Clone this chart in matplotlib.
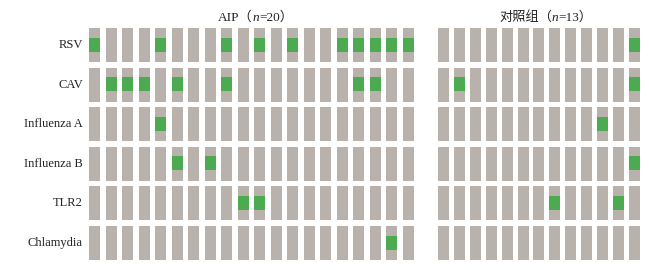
import numpy as np
import matplotlib
matplotlib.use("Agg")
import matplotlib.pyplot as plt

# data: 1 = positive (green), 0 = negative
markers = ["RSV", "CAV", "Influenza A", "Influenza B", "TLR2", "Chlamydia"]
aip_pos = [
    [0, 4, 8, 10, 12, 15, 16, 17, 18, 19],
    [1, 2, 3, 5, 8, 16, 17],
    [4],
    [5, 7],
    [9, 10],
    [18],
]
ctrl_pos = [
    [12],
    [1, 12],
    [10],
    [12],
    [7, 11],
    [],
]
n_aip = 20
n_ctrl = 13

gray = "#b9b1ac"
green = "#4caa50"

fig = plt.figure(figsize=(6.49, 2.70), dpi=100)
ax = fig.add_axes([0, 0, 1, 1])
ax.set_xlim(0, 649)
ax.set_ylim(270, 0)
ax.axis("off")

# layout (pixels)
aip_x0, aip_step = 89, 16.5
ctrl_x0, ctrl_step = 438, 15.9
bar_w = 11
row_y0, row_step, row_h = 28, 39.6, 34
sq_off, sq_h = 9.5, 14

def draw_group(x0, step, n, positives):
    xs = x0 + step * np.arange(n)
    for r, pos in enumerate(positives):
        top = row_y0 + row_step * r
        ax.bar(xs, row_h, width=bar_w, bottom=top, align="edge", color=gray, linewidth=0)
        if pos:
            px = xs[np.array(pos)]
            ax.bar(px, sq_h, width=bar_w, bottom=top + sq_off, align="edge", color=green, linewidth=0)

draw_group(aip_x0, aip_step, n_aip, aip_pos)
draw_group(ctrl_x0, ctrl_step, n_ctrl, ctrl_pos)

serif = ["Liberation Serif", "Noto Sans CJK SC"]
for r, name in enumerate(markers):
    ax.text(83, row_y0 + row_step * r + row_h / 2, name, ha="right", va="center",
            family=serif, fontsize=9, color="#222222")

def title(x, y, parts):
    prev = None
    for txt, style in parts:
        kw = dict(family=serif, fontsize=9.5, color="#222222", style=style, va="baseline", ha="left")
        if prev is None:
            prev = ax.text(x, y, txt, **kw)
        else:
            prev = ax.annotate(txt, xy=(1, y), xycoords=(prev, "data"), **kw)

title(218, 21, [("AIP\uff08", "normal"), ("n", "italic"), ("=20\uff09", "normal")])
title(499, 21, [("对照组\uff08", "normal"), ("n", "italic"), ("=13\uff09", "normal")])

fig.savefig("out.png", dpi=100)
